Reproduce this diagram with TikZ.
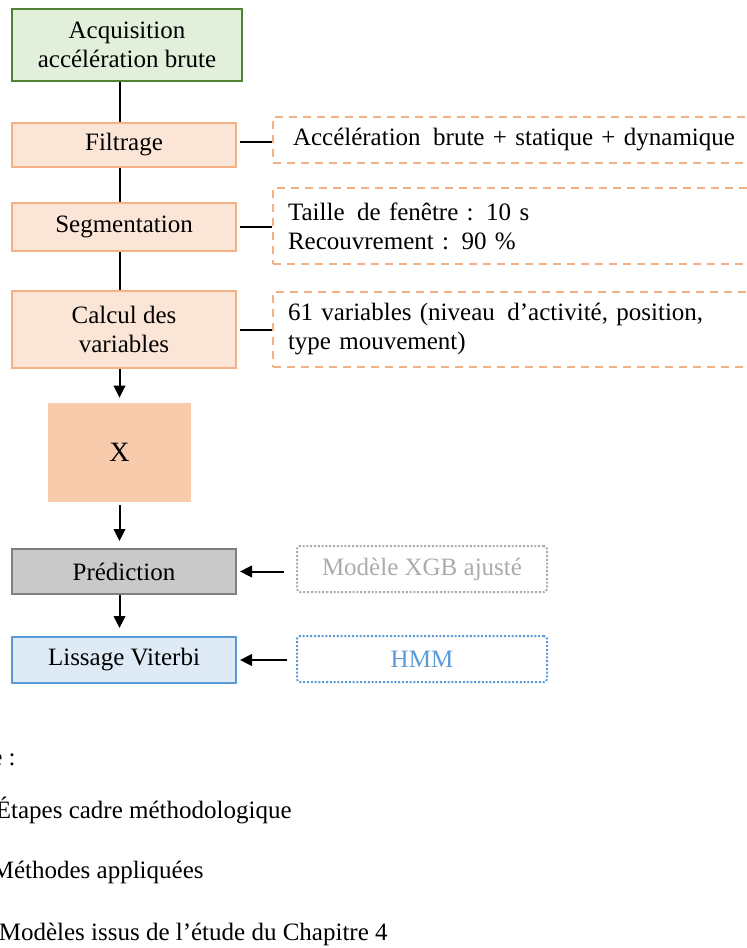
\documentclass[tikz,border=0pt]{standalone}
\usepackage{fontspec}
\setmainfont{Liberation Serif}
\usetikzlibrary{arrows.meta}
\definecolor{acqborder}{HTML}{548235}
\definecolor{acqfill}{HTML}{E2EFDA}
\definecolor{orborder}{HTML}{F4B183}
\definecolor{orfill}{HTML}{FBE5D6}
\definecolor{xfill}{HTML}{F8CBAD}
\definecolor{predfill}{HTML}{C9C9C9}
\definecolor{predborder}{HTML}{7F7F7F}
\definecolor{lisfill}{HTML}{DEEBF7}
\definecolor{lisborder}{HTML}{5B9BD5}
\definecolor{xgbgrey}{HTML}{AEAAAA}
\begin{document}
\begin{tikzpicture}[x=0.5pt,y=-0.5pt,
  txt/.style={font=\fontsize{12.5}{14.5}\selectfont},
  stepbox/.style={txt, draw, line width=1pt, minimum width=112pt, align=center, inner sep=0pt},
  infobox/.style={txt, draw=orborder, line width=1pt, dash pattern=on 4pt off 3pt, align=left, inner ysep=0pt, anchor=west},
  dotbox/.style={txt, line width=1pt, dash pattern=on 1pt off 0.9pt, rounded corners=1.5pt, minimum width=125pt, minimum height=23pt, inner sep=0pt},
  conn/.style={line width=1pt},
  arr/.style={line width=1pt, -{Triangle[length=6pt,width=5.8pt]}},
  legend/.style={txt, inner sep=0pt, anchor=base east}]
\useasboundingbox (0,0) rectangle (747,948);
\clip (0,0) rectangle (747,948);

% main steps
\node[stepbox, draw=acqborder, fill=acqfill, minimum width=115pt, minimum height=36pt] (acq) at (127,45) {Acquisition\\accélération brute};
\node[stepbox, draw=orborder, fill=orfill, minimum height=22pt] (filt) at (124,145) {Filtrage};
\node[stepbox, draw=orborder, fill=orfill, minimum height=24pt] (seg) at (124,227) {Segmentation};
\node[stepbox, draw=orborder, fill=orfill, minimum height=38.5pt] (calc) at (124,329.5) {Calcul des\\variables};
\node[txt, fill=xfill, minimum width=71.5pt, minimum height=49.5pt, inner sep=0pt, font=\fontsize{14}{16}\selectfont] (X) at (119.5,452.5) {X};
\node[stepbox, draw=predborder, fill=predfill, minimum height=22.5pt] (pred) at (124,571.5) {Prédiction};
\node[stepbox, draw=lisborder, fill=lisfill, minimum height=23pt] (lis) at (124,660) {Lissage Viterbi};

% methods
\node[infobox, text width=244pt, inner xsep=10pt, minimum height=23pt] (finfo) at (272,140) {Accélération\, brute + statique + dynamique};
\node[infobox, text width=249pt, inner xsep=7.5pt, minimum height=38pt] (sinfo) at (272,226) {Taille\, de fenêtre : 10 s\\Recouvrement : 90 \%};
\node[infobox, text width=249pt, inner xsep=7.5pt, minimum height=37.5pt] (cinfo) at (272,329.5) {61 variables (niveau\, d’activité, position,\\type mouvement)};

% models
\node[dotbox, draw=xgbgrey, text=xgbgrey] (xgb) at (422,569) {Modèle XGB ajusté};
\node[dotbox, draw=lisborder, text=lisborder] (hmm) at (422,659) {HMM};

% vertical connectors
\draw[conn] (acq.south -| X.center) -- (filt.north -| X.center);
\draw[conn] (filt.south -| X.center) -- (seg.north -| X.center);
\draw[conn] (seg.south -| X.center) -- (calc.north -| X.center);
\draw[arr, shorten >=2.5pt] (calc.south -| X.center) -- (X.north);
\draw[arr, shorten <=1.5pt, shorten >=3.5pt] (X.south) -- (pred.north -| X.center);
\draw[arr, shorten >=4pt] (pred.south -| X.center) -- (lis.north -| X.center);

% side connectors
\draw[conn, shorten <=1.5pt] ([yshift=1.5pt]filt.east) -- ([yshift=1.5pt]filt.east -| finfo.west);
\draw[conn, shorten <=1.5pt] (seg.east) -- (seg.east -| sinfo.west);
\draw[conn, shorten <=1.5pt] (calc.east) -- (calc.east -| cinfo.west);
\draw[arr, shorten <=6pt, shorten >=1.5pt] (xgb.west |- pred.east) -- (pred.east);
\draw[arr, shorten <=4.5pt, shorten >=1.5pt] (hmm.west |- lis.east) -- (lis.east);

% legend (cropped at left, as in the reference)
\node[legend] (leg) at (16,765) {Légende :};
\node[legend] (l1) at (292,818) {Étapes cadre méthodologique};
\node[legend] (l2) at (204,878) {Méthodes appliquées};
\node[legend] (l3) at (388,940) {Modèles issus de l’étude du Chapitre 4};
\end{tikzpicture}
\end{document}
